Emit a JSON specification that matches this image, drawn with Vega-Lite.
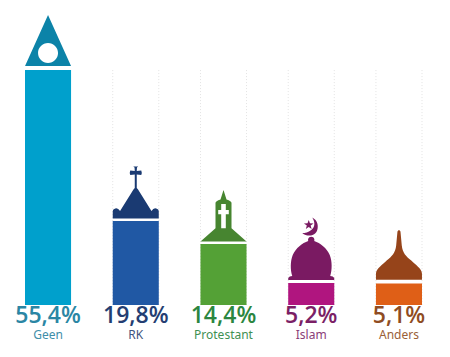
{
"$schema":"https://vega.github.io/schema/vega-lite/v6.json",
"autosize":{"type":"fit","contains":"padding"},
"width":450,"height":357,"padding":0,
"background":"white",
"view":{"stroke":null},
"data":{"values":[
{"naam":"Geen","waarde":55.4,"label":"55,4%"},
{"naam":"RK","waarde":19.8,"label":"19,8%"},
{"naam":"Protestant","waarde":14.4,"label":"14,4%"},
{"naam":"Islam","waarde":5.2,"label":"5,2%"},
{"naam":"Anders","waarde":5.1,"label":"5,1%"}
]},
"encoding":{
"x":{"field":"naam","type":"nominal","sort":null,"axis":null,
"scale":{"domain":["Geen","RK","Protestant","Islam","Anders"],"range":[25,422],"paddingInner":0.475,"paddingOuter":0}}
},
"layer":[
{"transform":[{"filter":"datum.naam !== 'Geen'"}],
 "mark":{"type":"rule","color":"#e2e2e2","strokeDash":[1,2],"strokeWidth":1},
 "encoding":{"x":{"field":"naam","type":"nominal","sort":null,"bandPosition":0,"axis":null},
  "y":{"datum":55.4,"type":"quantitative","axis":null,"scale":{"domain":[-12.26,71.93],"range":[357,0],"nice":false,"zero":false}},"y2":{"datum":0}}},
{"transform":[{"filter":"datum.naam !== 'Geen'"}],
 "mark":{"type":"rule","color":"#e2e2e2","strokeDash":[1,2],"strokeWidth":1},
 "encoding":{"x":{"field":"naam","type":"nominal","sort":null,"bandPosition":1,"axis":null},
  "y":{"datum":55.4,"type":"quantitative","axis":null},"y2":{"datum":0}}},
{"mark":{"type":"bar"},
 "encoding":{
  "y":{"field":"waarde","type":"quantitative","axis":null},"y2":{"datum":0},
  "color":{"field":"naam","type":"nominal","legend":null,"sort":null,
   "scale":{"domain":["Geen","RK","Protestant","Islam","Anders"],"range":["#00a0cc","#2058a4","#54a136","#b0157f","#df5f17"]}}}},
{"mark":{"type":"point","filled":true,"opacity":1,"size":4,"strokeWidth":0},
 "encoding":{
  "y":{"field":"waarde","type":"quantitative","axis":null},
  "shape":{"field":"naam","type":"nominal","legend":null,"sort":null,
   "scale":{"domain":["Geen","RK","Protestant","Islam","Anders"],"range":[
    "M0,-55L23,-4L-23,-4ZM-10,-17A10,10 0 1 0 10,-17A10,10 0 1 0 -10,-17Z",
    "M-23,-2.5L-23,-10Q-23,-12 -20.5,-12.5Q-18,-13.5 -15.7,-10L-2.3,-31.5L-1,-33L-1,-46.5L-5.5,-46Q-6.5,-48.2 -5.5,-50.5L-1,-50L-1.2,-53.5L-2.5,-54.5L2.5,-54.5L1.2,-53.5L1,-50L5.5,-50.5Q6.5,-48.2 5.5,-46L1,-46.5L1,-33L2.3,-31.5L15.7,-10Q18,-13.5 20.5,-12.5Q23,-12 23,-10L23,-2.5Z",
    "M-23,-2.5L-8,-15.7L-8,-41Q-8,-43 -3,-44.5L0,-54L3,-44.5Q8,-43 8,-41L8,-15.7L23,-2.5ZM-2.3,-15.7L2.3,-15.7L2.3,-29.7L5.3,-29.7L5.3,-34L2.3,-34L2.3,-40L-2.3,-40L-2.3,-34L-5.3,-34L-5.3,-29.7L-2.3,-29.7Z",
    "M-23,-3L23,-3L23,-5Q22,-7 19,-7C21,-13 21,-22 18.5,-28C15.5,-35 9,-40 3,-42A3.2,3.2 0 1 0 -3,-42C-9,-40 -15.5,-35 -18.5,-28C-21,-22 -21,-13 -19,-7Q-22,-7 -23,-5ZM-9,-50C-3,-45 7,-47 6.5,-57C6.5,-61 4,-64 1,-65.5C4,-61 4,-56 0,-53C-3,-50.5 -6,-50 -9,-50ZM-2.5,-63L-1.3,-59.6L2.3,-59.5L-0.6,-57.4L0.4,-54L-2.5,-56L-5.4,-54L-4.4,-57.4L-7.3,-59.5L-3.7,-59.6Z",
    "M-23,-3.7L-23,-9.7C-23,-15 -16,-19 -12.3,-23C-7,-27 -3.5,-31 -2.8,-38L-1.5,-52Q0,-55 1.5,-52L2.8,-38C3.5,-31 7,-27 12.3,-23C16,-19 23,-15 23,-9.7L23,-3.7Z"
   ]}},
  "color":{"field":"naam","type":"nominal","legend":null,"sort":null,
   "scale":{"domain":["Geen","RK","Protestant","Islam","Anders"],"range":["#0c83a8","#1a3a72","#478530","#7a1a62","#96441a"]}}}},
{"mark":{"type":"text","font":"Open Sans","fontWeight":600,"fontSize":23,"baseline":"middle","align":"center"},
 "encoding":{
  "y":{"datum":-2.7,"type":"quantitative","axis":null},
  "text":{"field":"label","type":"nominal"},
  "color":{"field":"naam","type":"nominal","legend":null,"sort":null,
   "scale":{"domain":["Geen","RK","Protestant","Islam","Anders"],"range":["#2a86a4","#243e72","#2b8640","#7b1f66","#8f4c22"]}}}},
{"mark":{"type":"text","font":"Noto Sans","fontSize":12,"baseline":"middle","align":"center"},
 "encoding":{
  "y":{"datum":-7,"type":"quantitative","axis":null},
  "text":{"field":"naam","type":"nominal"},
  "color":{"field":"naam","type":"nominal","legend":null,"sort":null,
   "scale":{"domain":["Geen","RK","Protestant","Islam","Anders"],"range":["#3f8ea9","#3f5580","#3f9053","#8a3d78","#9a6038"]}}}}
],
"resolve":{"scale":{"color":"independent"}}
}
